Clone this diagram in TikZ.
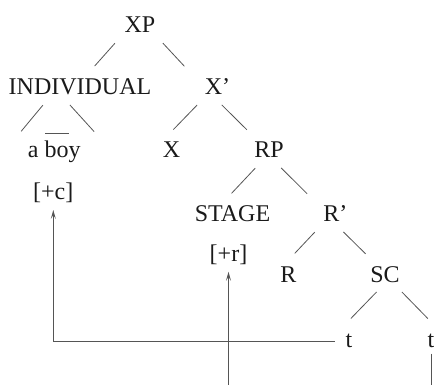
\documentclass[tikz,border=0pt]{standalone}
\usepackage{fontspec}
\setmainfont{Liberation Serif}
\usetikzlibrary{arrows.meta}
\definecolor{inkmain}{HTML}{1A1A1A}
\definecolor{inkline}{HTML}{555555}
\tikzstyle{cat} = [inner sep=0pt, text height=16.8pt, text depth=4.8pt, text=inkmain, font=\fontsize{24}{28}\selectfont]
\tikzstyle{branch} = [draw=inkline, line width=0.8pt, shorten <=7pt, shorten >=16pt]
\tikzstyle{roof} = [draw=inkline, line width=0.8pt, shorten <=6.7pt, shorten >=12pt]
\tikzstyle{arrow} = [draw=inkline, line width=0.9pt, -{Stealth[length=9pt,width=5pt,inset=4pt]}, shorten >=5.5pt]

\begin{document}
\begin{tikzpicture}[x=1pt, y=-1pt]
    \useasboundingbox (0,0) rectangle (434,385);
    % tree nodes, placed at their baselines
    \node[cat, anchor=base] (xp) at (140,33) {XP};
    \node[cat, anchor=base] (ind) at (80,95) {INDIVIDUAL};
    \node[cat, anchor=base] (xbar) at (217.5,95) {X’};
    \node[cat, anchor=base] (boy) at (54.2,157.5) {a boy};
    \node[cat, anchor=base] (x) at (171.5,158) {X};
    \node[cat, anchor=base] (rp) at (269,158) {RP};
    \node[cat, anchor=base] (plusc) at (53.3,199.5) {[+c]};
    \node[cat, anchor=base] (stage) at (232.5,222) {STAGE};
    \node[cat, anchor=base] (rbar) at (335.3,222) {R’};
    \node[cat, anchor=base] (plusr) at (228.5,261.3) {[+r]};
    \node[cat, anchor=base] (r) at (288.3,282) {R};
    \node[cat, anchor=base] (sc) at (385,282) {SC};
    \node[cat, anchor=base] (t1) at (349,347) {t};
    \node[cat, anchor=base] (t2) at (431,347) {t};
    \coordinate (rfoot) at (228.5,385);
    \coordinate (tfoot) at (430,385);

    % branches
    \draw[branch] ([xshift=-20.4pt]xp.south) -- ([xshift=4pt]ind.north);
    \draw[branch] ([xshift=18.1pt]xp.south) -- ([xshift=-22.2pt]xbar.north);
    \draw[branch] ([xshift=-15.5pt]xbar.south) -- ([xshift=-9.2pt]x.north);
    \draw[branch] ([xshift=-0.7pt]xbar.south) -- ([xshift=-10.8pt]rp.north);
    \draw[branch] ([xshift=-8.9pt]rp.south) -- ([xshift=-11.9pt]stage.north);
    \draw[branch] ([xshift=7.2pt]rp.south) -- ([xshift=-16.8pt]rbar.north);
    \draw[branch] ([xshift=-15.7pt]rbar.south) -- ([xshift=-4.5pt]r.north);
    \draw[branch] ([xshift=3.1pt]rbar.south) -- ([xshift=-8.1pt]sc.north);
    \draw[branch] ([xshift=-3.6pt]sc.south) -- ([xshift=-9.3pt]t1.north);
    \draw[branch] ([xshift=12pt]sc.south) -- ([xshift=8pt]t2.north);

    % roof over a boy
    \draw[roof] ([xshift=-32.8pt]ind.south) -- ([xshift=-40.7pt]boy.north);
    \draw[roof] ([xshift=-14.6pt]ind.south) -- ([xshift=48pt]boy.north);
    \draw[draw=inkline, line width=0.8pt] ([xshift=-9pt,yshift=7.4pt]boy.north) -- ([xshift=15pt,yshift=7.4pt]boy.north);

    % movement arrows
    \draw[arrow, shorten <=10.5pt] (t1.west) -| (plusc.south);
    \draw[arrow] (rfoot) -- (plusr.south);
    \draw[draw=inkline, line width=0.8pt, shorten <=1.5pt] (t2.south) -- (t2.south |- tfoot);
\end{tikzpicture}
\end{document}
